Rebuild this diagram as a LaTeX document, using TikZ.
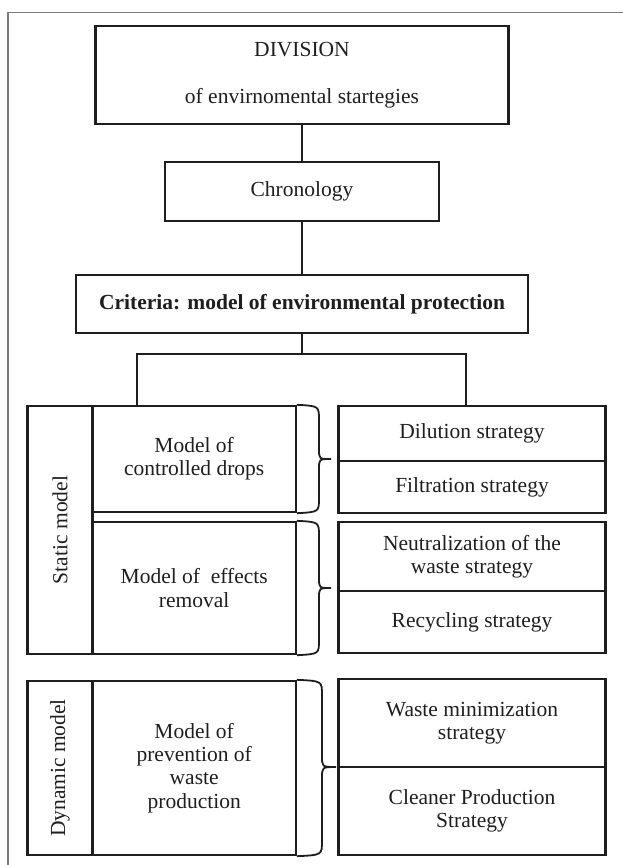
\documentclass[tikz,border=0pt]{standalone}
\usepackage{fontspec}
\setmainfont{Liberation Serif}
\definecolor{ink}{HTML}{1E1E1E}
\definecolor{framegray}{HTML}{7A7A7A}
\begin{document}
\begin{tikzpicture}[x=1pt,y=-1pt,
  txt/.style={font=\fontsize{21.5}{23.3}\selectfont, text=ink, align=center, inner sep=0pt},
  box/.style={txt, draw=ink, line width=2.4pt},
  frameline/.style={draw=framegray, line width=1.6pt},
  conn/.style={draw=ink, line width=2.4pt},
  brace/.style={draw=ink, line width=1.8pt},
]
\useasboundingbox (0,0) rectangle (623,865);
\draw[frameline] (8,865) -- (8,12.5) -- (623,12.5);

% top chain
\node[box, minimum width=413, minimum height=98] (div) at (302,75)
  {DIVISION\\[24pt]of envirnomental startegies};
\node[box, minimum width=274, minimum height=59] (chr) at (302,191.5) {Chronology};
\node[box, minimum width=452, minimum height=58, font=\fontsize{21.5}{23.3}\selectfont\bfseries] (crit) at (302,304)
  {Criteria: model of environmental protection};
\draw[conn] (div.south) -- (chr.north);
\draw[conn] (chr.south) -- (crit.north);

% static model
\node[box, minimum width=65, minimum height=248] (stat) at (60,530) {};
\node[txt, rotate=90] (statlbl) at (stat.center) {Static model};
\node[box, minimum width=203, minimum height=106] (cd) at (194.2,459) {Model of\\controlled drops};
\node[box, minimum width=203, minimum height=132] (er) at (194.2,588) {Model of\ \ effects\\removal};

% strategies
\node[box, minimum width=267, minimum height=55] (dil) at (472,433.5) {Dilution strategy};
\node[box, minimum width=267, minimum height=52] (fil) at (472,487) {Filtration strategy};
\node[box, minimum width=267, minimum height=69] (neu) at (472,556.5) {Neutralization of the\\waste strategy};
\node[box, minimum width=267, minimum height=62] (rec) at (472,622) {Recycling strategy};

% dynamic model
\node[box, minimum width=65, minimum height=174] (dyn) at (60,768) {};
\node[txt, rotate=90] (dynlbl) at (dyn.center) {Dynamic model};
\node[box, minimum width=203, minimum height=174] (pw) at (194.2,768) {Model of\\prevention of\\waste\\production};
\node[box, minimum width=267, minimum height=88] (wm) at (472,723) {Waste minimization\\strategy};
\node[box, minimum width=267, minimum height=88] (cp) at (472,811) {Cleaner Production\\Strategy};

% split connector
\coordinate (jc) at (302,354);
\coordinate (jl) at (137,354);
\coordinate (jr) at (466,354);
\draw[conn] (crit.south) -- (jc);
\draw[conn] (cd.north -| jl) -- (jl) -- (jr) -- (jr |- dil.north);

% braces
\draw[brace] (cd.north east) .. controls (319,406) .. (319,420) -- (319,449)
  .. controls (319,459) .. (331,459) .. controls (319,459) .. (319,469) -- (319,498)
  .. controls (319,512) .. (cd.south east);
\draw[brace] (er.north east) .. controls (319,522) .. (319,536) -- (319,578)
  .. controls (319,588) .. (331,588) .. controls (319,588) .. (319,598) -- (319,640)
  .. controls (319,654) .. (er.south east);
\draw[brace] (pw.north east) .. controls (322,681) .. (322,695) -- (322,756)
  .. controls (322,767) .. (336,767) .. controls (322,767) .. (322,778) -- (322,841)
  .. controls (322,855) .. (pw.south east);
\end{tikzpicture}
\end{document}
